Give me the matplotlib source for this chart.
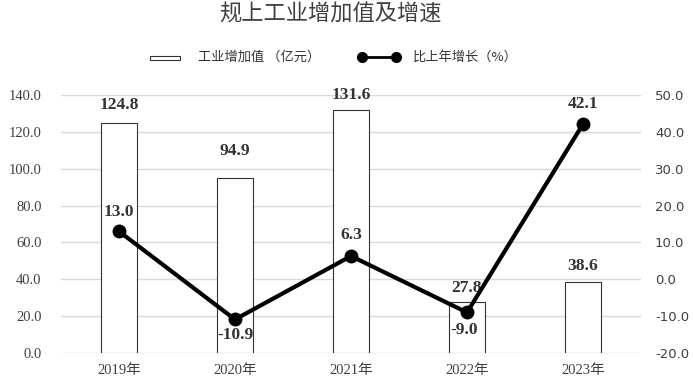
import matplotlib
matplotlib.use("Agg")
from matplotlib import pyplot as plt
from matplotlib.patches import Rectangle
from matplotlib.lines import Line2D
import numpy as np

plt.rcParams['font.family'] = ['Noto Sans CJK SC', 'DejaVu Sans']

years = ["2019年", "2020年", "2021年", "2022年", "2023年"]
value_add = [124.8, 94.9, 131.6, 27.8, 38.6]
growth = [13.0, -10.9, 6.3, -9.0, 42.1]

serif = "Liberation Serif"
tick_color = "#404040"

fig = plt.figure(figsize=(6.93, 3.89), dpi=100)
ax = fig.add_axes([61 / 693, 1 - 353 / 389, 580 / 693, 258 / 389])
ax2 = ax.twinx()

x = np.arange(len(years))
ax.bar(x, value_add, width=0.31, color="white", edgecolor="#333333", linewidth=0.8, zorder=2)
ax.set_ylim(0, 140)
ax.set_xlim(-0.5, 4.5)
ax.set_yticks(np.arange(0, 141, 20))
ax.set_yticklabels(["%.1f" % v for v in np.arange(0, 141, 20)], fontfamily=serif, fontsize=10.5, color=tick_color)
ax.grid(axis="y", color="#d9d9d9", linewidth=1, zorder=0)
ax.set_axisbelow(True)
ax.set_xticks(x)
ax.set_xticklabels(years, fontfamily=[serif, 'Noto Sans CJK SC'], fontsize=10.5, color=tick_color)
ax.tick_params(length=0, pad=8)
ax.tick_params(axis="y", pad=14)
for s in ax.spines.values():
    s.set_visible(False)
for s in ax2.spines.values():
    s.set_visible(False)

# 柱子标签
bar_off = [18, 27, 15, 14, 16]
for i, v in enumerate(value_add):
    ax.annotate("%.1f" % v, (x[i], v), xytext=(0, bar_off[i]), textcoords="offset pixels",
                ha="center", va="center", fontfamily=serif, fontweight="bold", fontsize=12.5, color="#333333")

ax2.plot(x, growth, color="black", linewidth=3, marker="o", markersize=9, zorder=5)
ax2.set_ylim(-20, 50)
ax2.set_yticks(np.arange(-20, 51, 10))
ax2.set_yticklabels(["%.1f" % v for v in np.arange(-20, 51, 10)], fontfamily="DejaVu Sans", fontsize=9.5, color=tick_color)
ax2.tick_params(length=0, pad=10)

# 折线标签
line_off = [(0, 19), (0, -16), (0, 21), (-3, -18), (0, 20)]
for i, v in enumerate(growth):
    ax2.annotate("%.1f" % v, (x[i], v), xytext=line_off[i], textcoords="offset pixels",
                 ha="center", va="center", fontfamily=serif, fontweight="bold", fontsize=12.5, color="#333333")

fig.text(330 / 693, 1 - 14 / 389, "规上工业增加值及增速", ha="center", va="center", fontsize=16, color="#404040")

# 图例
fig.patches.append(Rectangle((150 / 693, 1 - 59.5 / 389), 30 / 693, 4 / 389, transform=fig.transFigure,
                             facecolor="white", edgecolor="#333333", linewidth=0.8))
fig.text(198 / 693, 1 - 57 / 389, "工业增加值 （亿元）", ha="left", va="center", fontsize=9.5, color="#333333")
fig.lines.append(Line2D([362 / 693, 396 / 693], [1 - 57 / 389, 1 - 57 / 389], transform=fig.transFigure,
                        color="black", linewidth=2, marker="o", markersize=7))
fig.text(413 / 693, 1 - 57 / 389, "比上年增长（%）", ha="left", va="center", fontsize=9.5, color="#333333")

fig.savefig("out.png", dpi=100)
